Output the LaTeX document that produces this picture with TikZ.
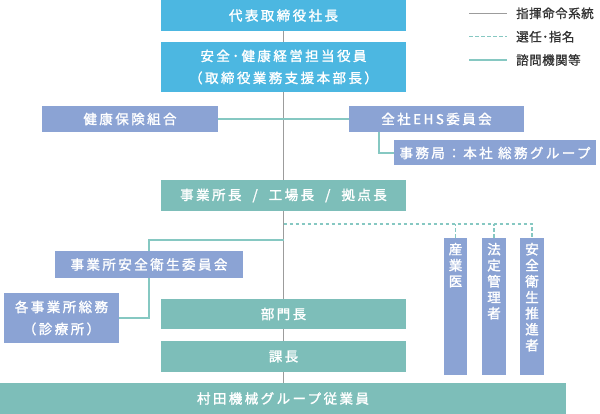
\documentclass[tikz,border=0pt]{standalone}
\usepackage{fontspec}
\setmainfont{Noto Sans CJK JP}[LetterSpace=18,FakeBold=1.6]
\newfontfamily\legfont{Noto Sans CJK JP}[LetterSpace=4,FakeBold=1]
\pgfdeclarelayer{bg}
\pgfsetlayers{bg,main}
\definecolor{cBlue}{HTML}{4CB7E1}
\definecolor{cPeri}{HTML}{8BA3D4}
\definecolor{cTeal}{HTML}{7DBEB9}
\definecolor{cGrayLine}{HTML}{9C9C9C}
\definecolor{cTealLine}{HTML}{86C8C2}
\definecolor{cText}{HTML}{333333}
\begin{document}
\begin{tikzpicture}[x=1pt,y=-1pt,
  box/.style={rectangle, inner sep=0pt, text=white, align=center,
    font=\fontsize{13.5}{22}\selectfont},
  bluebox/.style={box, fill=cBlue},
  peribox/.style={box, fill=cPeri},
  tealbox/.style={box, fill=cTeal},
  wide/.style={minimum width=245pt},
  grayline/.style={draw=cGrayLine, line width=0.9pt},
  tealline/.style={draw=cTealLine, line width=1.4pt},
  dashline/.style={draw=cTealLine, line width=1.2pt, dash pattern=on 3.5pt off 2.5pt},
  legtext/.style={anchor=west, inner sep=0pt, text=cText, font=\legfont\fontsize{12.5}{14}\selectfont},
  vtext/.style={peribox, inner sep=0pt}
]
\useasboundingbox (0,0) rectangle (600,414);

% boxes
\node[bluebox, wide, minimum height=31pt] (ceo) at (283.5,15.5) {代表取締役社長};
\node[bluebox, wide, minimum height=50pt] (exec) at (283.5,67) {安全･健康経営担当役員\\（取締役業務支援本部長）};
\node[peribox, minimum width=176pt, minimum height=26pt] (kenpo) at (130,119) {健康保険組合};
\node[peribox, minimum width=175pt, minimum height=26pt] (ehs) at (436.5,119) {全社EHS委員会};
\node[peribox, minimum width=202pt, minimum height=25pt] (jimu) at (495,153) {事務局：本社 総務グループ};
\node[tealbox, wide, minimum height=31pt] (plant) at (283.5,195.5) {事業所長\hspace{11pt}/\hspace{11pt}工場長\hspace{11pt}/\hspace{11pt}拠点長};
\node[peribox, minimum width=188pt, minimum height=27pt] (site) at (149,264.5) {事業所安全衛生委員会};
\node[peribox, minimum width=115pt, minimum height=50pt] (soumu) at (61.5,318) {各事業所総務\\（診療所）};
\node[tealbox, wide, minimum height=30.5pt] (bumon) at (283.5,314) {部門長};
\node[tealbox, wide, minimum height=31pt] (kacho) at (283.5,356.5) {課長};
\node[tealbox, minimum width=566pt, minimum height=31pt] (emp) at (283,398.5) {村田機械グループ従業員};

\node[vtext] (sangyoui) at (455.5,306.5) {\parbox[c][137pt][t]{23pt}{\centering\fontsize{13.5}{16}\selectfont\vspace*{5pt}産\\業\\医}};
\node[vtext] (houtei) at (494,306.5) {\parbox[c][137pt][t]{23.5pt}{\centering\fontsize{13.5}{16}\selectfont\vspace*{5pt}法\\定\\管\\理\\者}};
\node[vtext] (anzen) at (532,306.5) {\parbox[c][137pt][t]{24pt}{\centering\fontsize{13.5}{16}\selectfont\vspace*{5pt}安\\全\\衛\\生\\推\\進\\者}};

% connectors
\coordinate (jdash) at (283.5,224);
\coordinate (jsite) at (283.5,240);
\begin{pgfonlayer}{bg}
\draw[grayline] (ceo.south) -- (exec.north);
\draw[grayline] (exec.south) -- (plant.north);
\draw[grayline] (plant.south) -- (bumon.north);
\draw[grayline] (bumon.south) -- (kacho.north);
\draw[grayline] (kacho.south) -- (kacho.south |- emp.north);
\draw[tealline] (kenpo.east) -- (ehs.west);
\draw[tealline] ([xshift=30pt]ehs.south west) |- (jimu.west);
\draw[tealline] (jsite) -| (site.north);
\draw[tealline] (site.south) |- (soumu.east);
\draw[dashline] (jdash) -| (anzen.north);
\draw[dashline] (sangyoui.north) -- (sangyoui.north |- jdash);
\draw[dashline] (houtei.north) -- (houtei.north |- jdash);
\end{pgfonlayer}

% legend
\coordinate (la1) at (469,13.3); \coordinate (lb1) at (507,13.3);
\coordinate (la2) at (469,36.7); \coordinate (lb2) at (507,36.7);
\coordinate (la3) at (469,60);   \coordinate (lb3) at (507,60);
\draw[grayline] (la1) -- (lb1);
\draw[dashline, line width=1pt] (la2) -- (lb2);
\draw[tealline] (la3) -- (lb3);
\node[legtext] (leg1) at (516,13.3) {指揮命令系統};
\node[legtext] (leg2) at (516,36.7) {選任･指名};
\node[legtext] (leg3) at (516,60) {諮問機関等};
\end{tikzpicture}
\end{document}
